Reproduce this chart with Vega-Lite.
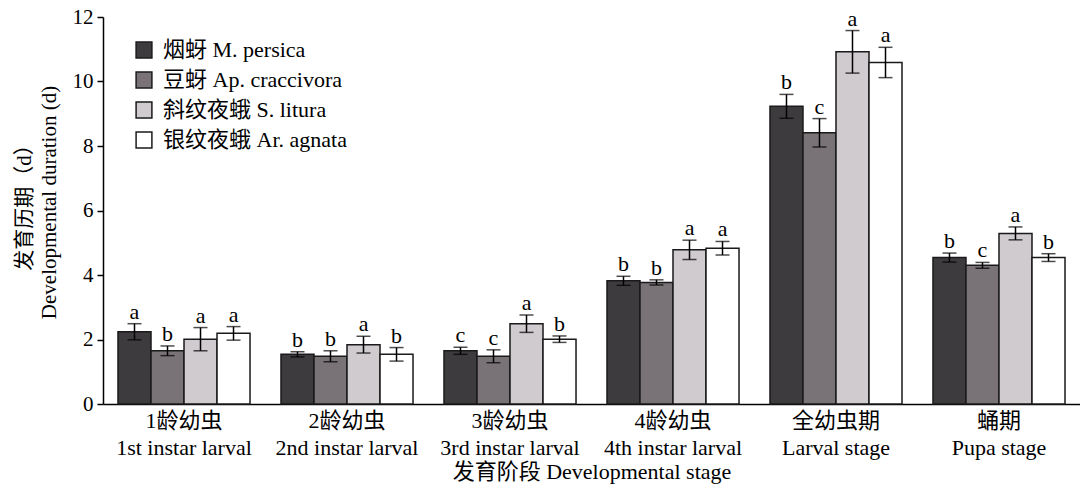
{
  "$schema": "https://vega.github.io/schema/vega-lite/v6.json",
  "width": 977,
  "height": 387,
  "autosize": {"type": "none"},
  "padding": {"left": 103, "top": 17, "right": 0, "bottom": 89},
  "config": {
    "view": {"stroke": null},
    "font": "Liberation Serif, Noto Sans CJK SC",
    "axis": {"labelFont": "Liberation Serif, Noto Sans CJK SC", "titleFont": "Liberation Serif, Noto Sans CJK SC", "labelColor": "#000", "titleColor": "#000", "domainColor": "#000", "tickColor": "#000", "titleFontWeight": "normal", "grid": false}
  },
  "data": {
    "values": [
      {"stage": "1龄幼虫|1st instar larval", "species": "烟蚜 M. persica", "mean": 2.24, "lo": 1.99, "hi": 2.49, "sig": "a"},
      {"stage": "1龄幼虫|1st instar larval", "species": "豆蚜 Ap. craccivora", "mean": 1.65, "lo": 1.5, "hi": 1.8, "sig": "b"},
      {"stage": "1龄幼虫|1st instar larval", "species": "斜纹夜蛾 S. litura", "mean": 2.01, "lo": 1.65, "hi": 2.37, "sig": "a"},
      {"stage": "1龄幼虫|1st instar larval", "species": "银纹夜蛾 Ar. agnata", "mean": 2.19, "lo": 1.98, "hi": 2.4, "sig": "a"},
      {"stage": "2龄幼虫|2nd instar larval", "species": "烟蚜 M. persica", "mean": 1.54, "lo": 1.46, "hi": 1.62, "sig": "b"},
      {"stage": "2龄幼虫|2nd instar larval", "species": "豆蚜 Ap. craccivora", "mean": 1.48, "lo": 1.31, "hi": 1.65, "sig": "b"},
      {"stage": "2龄幼虫|2nd instar larval", "species": "斜纹夜蛾 S. litura", "mean": 1.84, "lo": 1.58, "hi": 2.1, "sig": "a"},
      {"stage": "2龄幼虫|2nd instar larval", "species": "银纹夜蛾 Ar. agnata", "mean": 1.54, "lo": 1.33, "hi": 1.75, "sig": "b"},
      {"stage": "3龄幼虫|3rd instar larval", "species": "烟蚜 M. persica", "mean": 1.65, "lo": 1.54, "hi": 1.76, "sig": "c"},
      {"stage": "3龄幼虫|3rd instar larval", "species": "豆蚜 Ap. craccivora", "mean": 1.48, "lo": 1.28, "hi": 1.68, "sig": "c"},
      {"stage": "3龄幼虫|3rd instar larval", "species": "斜纹夜蛾 S. litura", "mean": 2.49, "lo": 2.22, "hi": 2.76, "sig": "a"},
      {"stage": "3龄幼虫|3rd instar larval", "species": "银纹夜蛾 Ar. agnata", "mean": 2.01, "lo": 1.91, "hi": 2.11, "sig": "b"},
      {"stage": "4龄幼虫|4th instar larval", "species": "烟蚜 M. persica", "mean": 3.82, "lo": 3.68, "hi": 3.96, "sig": "b"},
      {"stage": "4龄幼虫|4th instar larval", "species": "豆蚜 Ap. craccivora", "mean": 3.77, "lo": 3.69, "hi": 3.85, "sig": "b"},
      {"stage": "4龄幼虫|4th instar larval", "species": "斜纹夜蛾 S. litura", "mean": 4.78, "lo": 4.48, "hi": 5.08, "sig": "a"},
      {"stage": "4龄幼虫|4th instar larval", "species": "银纹夜蛾 Ar. agnata", "mean": 4.83, "lo": 4.62, "hi": 5.04, "sig": "a"},
      {"stage": "全幼虫期|Larval stage", "species": "烟蚜 M. persica", "mean": 9.23, "lo": 8.86, "hi": 9.6, "sig": "b"},
      {"stage": "全幼虫期|Larval stage", "species": "豆蚜 Ap. craccivora", "mean": 8.41, "lo": 7.97, "hi": 8.85, "sig": "c"},
      {"stage": "全幼虫期|Larval stage", "species": "斜纹夜蛾 S. litura", "mean": 10.92, "lo": 10.26, "hi": 11.58, "sig": "a"},
      {"stage": "全幼虫期|Larval stage", "species": "银纹夜蛾 Ar. agnata", "mean": 10.59, "lo": 10.12, "hi": 11.06, "sig": "a"},
      {"stage": "蛹期|Pupa stage", "species": "烟蚜 M. persica", "mean": 4.54, "lo": 4.4, "hi": 4.68, "sig": "b"},
      {"stage": "蛹期|Pupa stage", "species": "豆蚜 Ap. craccivora", "mean": 4.3, "lo": 4.21, "hi": 4.39, "sig": "c"},
      {"stage": "蛹期|Pupa stage", "species": "斜纹夜蛾 S. litura", "mean": 5.29, "lo": 5.09, "hi": 5.49, "sig": "a"},
      {"stage": "蛹期|Pupa stage", "species": "银纹夜蛾 Ar. agnata", "mean": 4.54, "lo": 4.42, "hi": 4.66, "sig": "b"}
    ]
  },
  "encoding": {
    "x": {
      "field": "stage", "type": "nominal",
      "sort": ["1龄幼虫|1st instar larval", "2龄幼虫|2nd instar larval", "3龄幼虫|3rd instar larval", "4龄幼虫|4th instar larval", "全幼虫期|Larval stage", "蛹期|Pupa stage"],
      "scale": {"paddingInner": 0.19, "paddingOuter": 0.092},
      "axis": {
        "title": "发育阶段 Developmental stage",
        "titleFontSize": 22,
        "titlePadding": 3,
        "labelAngle": 0,
        "labelFontSize": 22,
        "labelLineHeight": 27,
        "labelPadding": 6,
        "labelLimit": 0,
        "labelExpr": "split(datum.label, '|')",
        "ticks": false,
        "domainWidth": 1.5
      }
    },
    "xOffset": {"field": "species", "type": "nominal", "sort": ["烟蚜 M. persica", "豆蚜 Ap. craccivora", "斜纹夜蛾 S. litura", "银纹夜蛾 Ar. agnata"], "scale": {"paddingInner": 0, "paddingOuter": 0}}
  },
  "layer": [
    {
      "mark": {"type": "bar", "stroke": "#1a1a1a", "strokeWidth": 1.5},
      "encoding": {
        "y": {
          "field": "mean", "type": "quantitative",
          "scale": {"domain": [0, 12]},
          "axis": {
            "values": [0, 2, 4, 6, 8, 10, 12],
            "title": ["发育历期（d）", "Developmental duration (d)"],
            "titleFontSize": 21,
            "titleLineHeight": 25,
            "titleAngle": -90,
            "titleX": -90,
            "titleY": 185,
            "titleAlign": "center",
            "titleBaseline": "top",
            "labelFontSize": 21,
            "labelPadding": 4,
            "tickSize": 6,
            "domainWidth": 1.5,
            "tickWidth": 1.5
          }
        },
        "fill": {
          "field": "species", "type": "nominal",
          "sort": ["烟蚜 M. persica", "豆蚜 Ap. craccivora", "斜纹夜蛾 S. litura", "银纹夜蛾 Ar. agnata"],
          "scale": {"range": ["#3e3b3f", "#797377", "#cfcbcf", "#ffffff"]},
          "legend": {
            "title": null,
            "orient": "none",
            "legendX": 30,
            "legendY": 22,
            "symbolType": "square",
            "symbolSize": 250,
            "symbolStrokeColor": "#1a1a1a",
            "symbolStrokeWidth": 1.5,
            "labelFontSize": 22,
            "labelLimit": 0,
            "labelFont": "Liberation Serif, Noto Sans CJK SC",
            "labelColor": "#000",
            "rowPadding": 8,
            "labelOffset": 8
          }
        }
      }
    },
    {
      "mark": {"type": "rule", "color": "#000", "strokeWidth": 1.5},
      "encoding": {
        "y": {"field": "lo", "type": "quantitative"},
        "y2": {"field": "hi"}
      }
    },
    {
      "mark": {"type": "tick", "color": "#000", "orient": "horizontal", "size": 14, "thickness": 1.5},
      "encoding": {"y": {"field": "lo", "type": "quantitative"}}
    },
    {
      "mark": {"type": "tick", "color": "#000", "orient": "horizontal", "size": 14, "thickness": 1.5},
      "encoding": {"y": {"field": "hi", "type": "quantitative"}}
    },
    {
      "mark": {"type": "text", "baseline": "alphabetic", "dy": -5, "fontSize": 22, "color": "#000", "font": "Liberation Serif"},
      "encoding": {
        "y": {"field": "hi", "type": "quantitative"},
        "text": {"field": "sig"}
      }
    }
  ]
}
